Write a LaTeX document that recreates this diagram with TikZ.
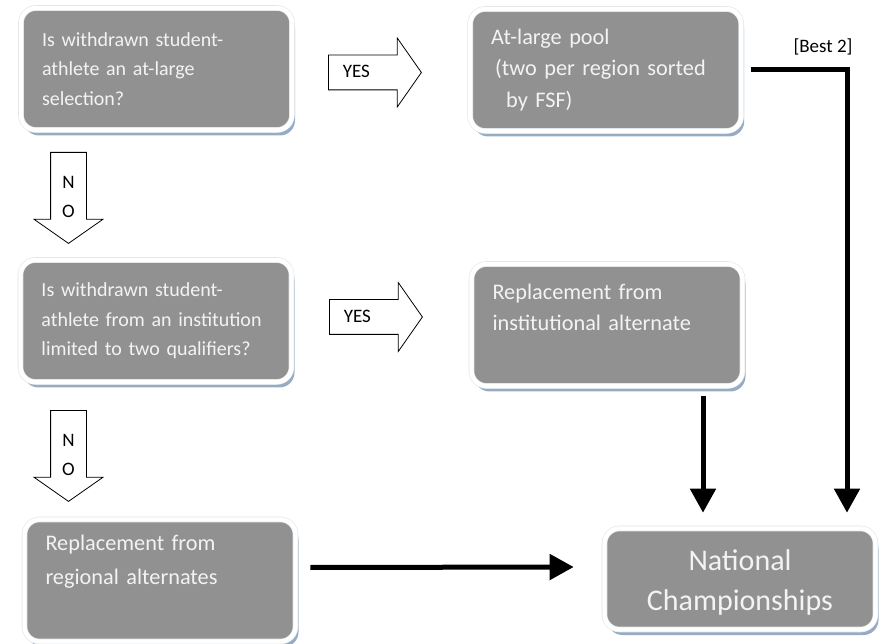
\documentclass[tikz,border=0pt]{standalone}
\usepackage{fontspec}
\setmainfont{Carlito}
\usetikzlibrary{shapes.arrows,shadows,arrows.meta}
\definecolor{boxgray}{RGB}{145,145,145}
\definecolor{boxtext}{RGB}{243,243,243}
\definecolor{shadowblue}{RGB}{150,172,196}
\definecolor{rimgray}{RGB}{222,229,232}

\begin{document}
\begin{tikzpicture}[x=1pt,y=-1pt,
  stepbox/.style={rectangle, rounded corners=15pt, fill=boxgray,
    draw=rimgray, double=white, double distance=4.4pt, line width=0.6pt,
    minimum width=271pt, minimum height=122pt, text width=229pt,
    inner xsep=21pt, inner ysep=0pt, align=left, text=boxtext,
    font=\fontsize{20}{29.5}\selectfont,
    drop shadow={shadow xshift=3pt, shadow yshift=-5.5pt, fill=shadowblue, opacity=1}},
  bigtext/.style={font=\fontsize{22.3}{31.5}\selectfont},
  yesarrow/.style={single arrow, draw=black, fill=white, line width=0.8pt,
    single arrow head extend=17pt, single arrow tip angle=110,
    minimum height=93pt, inner sep=0pt, text height=22.5pt, text depth=11.5pt,
    text width=52pt, align=left,
    font=\fontsize{19}{22}\selectfont, anchor=tail},
  noarrow/.style={single arrow, shape border rotate=270, draw=black, fill=white,
    line width=0.8pt, single arrow head extend=16.5pt, single arrow tip angle=110,
    minimum height=91pt, inner sep=0pt, text width=35pt, align=center,
    text height=22pt, font=\fontsize{19}{29}\selectfont, anchor=tail},
  bigarrow/.style={line width=5pt, -{Triangle[width=25pt,length=24pt]}}]

\useasboundingbox (0,0) rectangle (884,644);

% questions on the left
\node[stepbox] (qlarge) at (156.5,69) {Is withdrawn student-\\athlete an at-large\\selection?};
\node[stepbox] (qinst) at (156,321) {Is withdrawn student-\\athlete from an institution\\limited to two qualifiers?};
\node[stepbox, text depth=76pt, font=\fontsize{22.3}{34}\selectfont] (regalt) at (160,580.5) {Replacement from\\regional alternates\\~};

% outcomes on the right
\node[stepbox, bigtext] (pool) at (605.7,70) {At-large pool\\\hspace*{4pt}(two per region sorted\\\hspace*{15pt}by FSF)};
\node[stepbox, bigtext, text depth=67pt] (instalt) at (607,325) {Replacement from\\institutional alternate\\~};
\node[stepbox, minimum height=101pt, align=center, text depth=37pt,
  font=\fontsize{30}{40}\selectfont] (natl) at (740,579) {National\\Championships};

% yes / no arrows
\node[yesarrow] (yesa) at (328,72.5) {YES};
\node[yesarrow] (yesb) at (329,317) {YES};
\node[noarrow] (noa) at (68.5,152) {N\\O};
\node[noarrow] (nob) at (68.5,410) {N\\O};

% into the championships
\draw[bigarrow] ([xshift=9pt]pool.east) -| ([xshift=107pt,yshift=15.5pt]natl.north);
\node[font=\fontsize{19}{22}\selectfont] (best) at (823,47) {[Best 2]};
\draw[bigarrow] ([xshift=96pt,yshift=-9.5pt]instalt.south) -- ([xshift=-37pt,yshift=15.5pt]natl.north);
\draw[bigarrow] ([xshift=14.5pt,yshift=13pt]regalt.east) -- ([xshift=-30.5pt,yshift=12pt]natl.west);
\end{tikzpicture}
\end{document}
